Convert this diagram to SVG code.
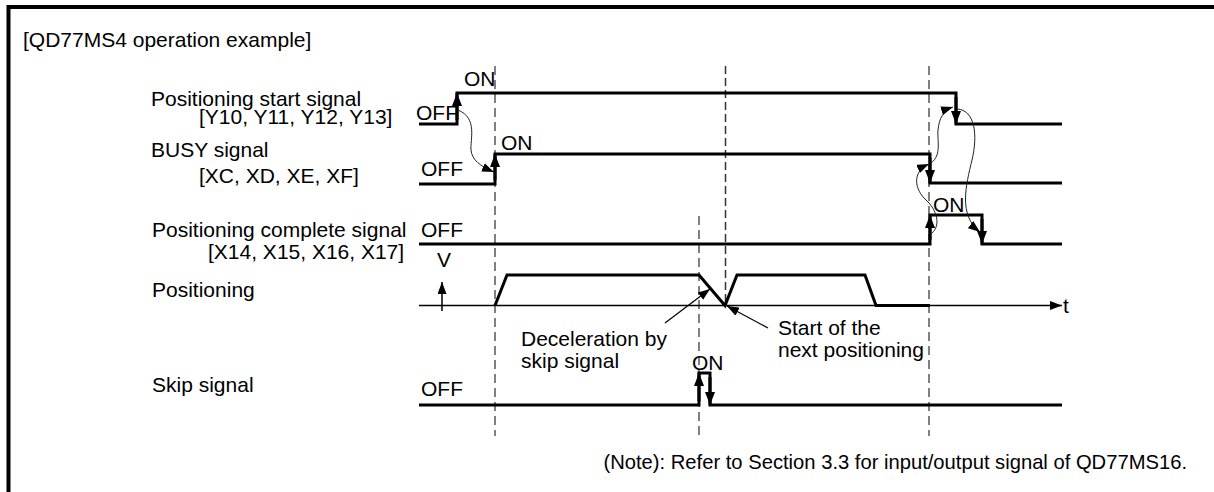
<svg xmlns="http://www.w3.org/2000/svg" width="1214" height="492" viewBox="0 0 1214 492">
<style>
text{font-family:"Liberation Sans",Arial,sans-serif;font-size:21px;fill:#000}
.sig{fill:none;stroke:#000;stroke-width:3;stroke-linejoin:miter}
.edge{fill:none;stroke:#000;stroke-width:3;marker-end:url(#ah)}
.thin{fill:none;stroke:#000;stroke-width:1.2;marker-end:url(#as)}
.curve{fill:none;stroke:#222;stroke-width:1;marker-end:url(#as)}
.axis{fill:none;stroke:#000;stroke-width:1.5}
.dg{fill:none;stroke:#808080;stroke-width:2;stroke-dasharray:9 5}
.dk{fill:none;stroke:#333;stroke-width:1.5;stroke-dasharray:8 4}
</style>
<defs>
<marker id="ah" markerUnits="userSpaceOnUse" markerWidth="13" markerHeight="10" refX="13" refY="5" orient="auto" viewBox="0 0 13 10"><path d="M0,0 L13,5 L0,10 z" fill="#000"/></marker>
<marker id="as" markerUnits="userSpaceOnUse" markerWidth="12" markerHeight="9" refX="12" refY="4.5" orient="auto" viewBox="0 0 12 9"><path d="M0,0 L12,4.5 L0,9 z" fill="#000"/></marker>
</defs>
<rect x="0" y="0" width="1214" height="492" fill="#fff"/>
<path d="M8.5,492 V7 H1214" fill="none" stroke="#000" stroke-width="4"/>
<text x="23" y="47">[QD77MS4 operation example]</text>

<g id="guides">
<line class="dg" x1="495" y1="66" x2="495" y2="436"/>
<line class="dg" x1="929" y1="66" x2="929" y2="436"/>
<line class="dg" x1="699" y1="216" x2="699" y2="436"/>
<line class="dk" x1="725.5" y1="66" x2="725.5" y2="304"/>
</g>

<g id="start-signal">
<text x="151" y="106">Positioning start signal</text>
<text x="199" y="124">[Y10, Y11, Y12, Y13]</text>
<text x="416" y="120">OFF</text>
<text x="464" y="86">ON</text>
<polyline class="sig" points="419,124 457,124 457,93 956,93 956,124 1062,124"/>
<path class="edge" d="M457,120 V93"/>
<path class="edge" d="M956,97 V124"/>
</g>

<g id="busy-signal">
<text x="151" y="157">BUSY signal</text>
<text x="199" y="183">[XC, XD, XE, XF]</text>
<text x="421" y="176">OFF</text>
<text x="501" y="150">ON</text>
<polyline class="sig" points="419,184 495,184 495,154 930,154 930,183 1062,183"/>
<path class="edge" d="M495,180 V154"/>
<path class="edge" d="M930,158 V183"/>
</g>

<g id="complete-signal">
<text x="152" y="237">Positioning complete signal</text>
<text x="208" y="259">[X14, X15, X16, X17]</text>
<text x="421" y="237">OFF</text>
<text x="933" y="212">ON</text>
<polyline class="sig" points="419,244 930,244 930,215 982,215 982,244 1062,244"/>
<path class="edge" d="M930,240 V215"/>
<path class="edge" d="M982,219 V244"/>
</g>

<g id="positioning">
<text x="152" y="297">Positioning</text>
<text x="437" y="267">V</text>
<line class="axis" x1="442" y1="311" x2="442" y2="282" marker-end="url(#as)"/>
<line class="axis" x1="419" y1="305.5" x2="1062" y2="305.5" marker-end="url(#as)"/>
<text x="1063" y="313">t</text>
<polyline class="sig" points="495,305.5 507,275 699,275 725,305.5 737,275 865,275 876,305.5 930,305.5"/>
</g>

<g id="skip-signal">
<text x="152" y="392">Skip signal</text>
<text x="421" y="396">OFF</text>
<text x="692" y="370">ON</text>
<polyline class="sig" points="419,405 699,405 699,373 710,373 710,405 1062,405"/>
<path class="edge" d="M699,401 V373"/>
<path class="edge" d="M710,377 V405"/>
</g>

<g id="labels">
<text x="521" y="346">Deceleration by</text>
<text x="521" y="368">skip signal</text>
<text x="778" y="335">Start of the</text>
<text x="778" y="357">next positioning</text>
<text x="1187" y="469" text-anchor="end" style="font-size:20.2px">(Note): Refer to Section 3.3 for input/output signal of QD77MS16.</text>
</g>

<g id="connectors">
<path class="curve" d="M458,110 C478,118 470,140 471,150 C472,160 480,166 494,172"/>
<path class="curve" d="M932,233 C941,225 937,210 926,200 C915,190 911,172 929,164"/>
<path class="curve" d="M931,163 C942,155 937,140 938,130 C939,118 944,110 953,107"/>
<path class="curve" d="M957,109 C975,110 978,135 972,160 C966,185 958,215 980,232"/>
<line class="thin" x1="665" y1="323" x2="710" y2="289"/>
<line class="thin" x1="768" y1="328" x2="727" y2="306"/>
</g>
</svg>
